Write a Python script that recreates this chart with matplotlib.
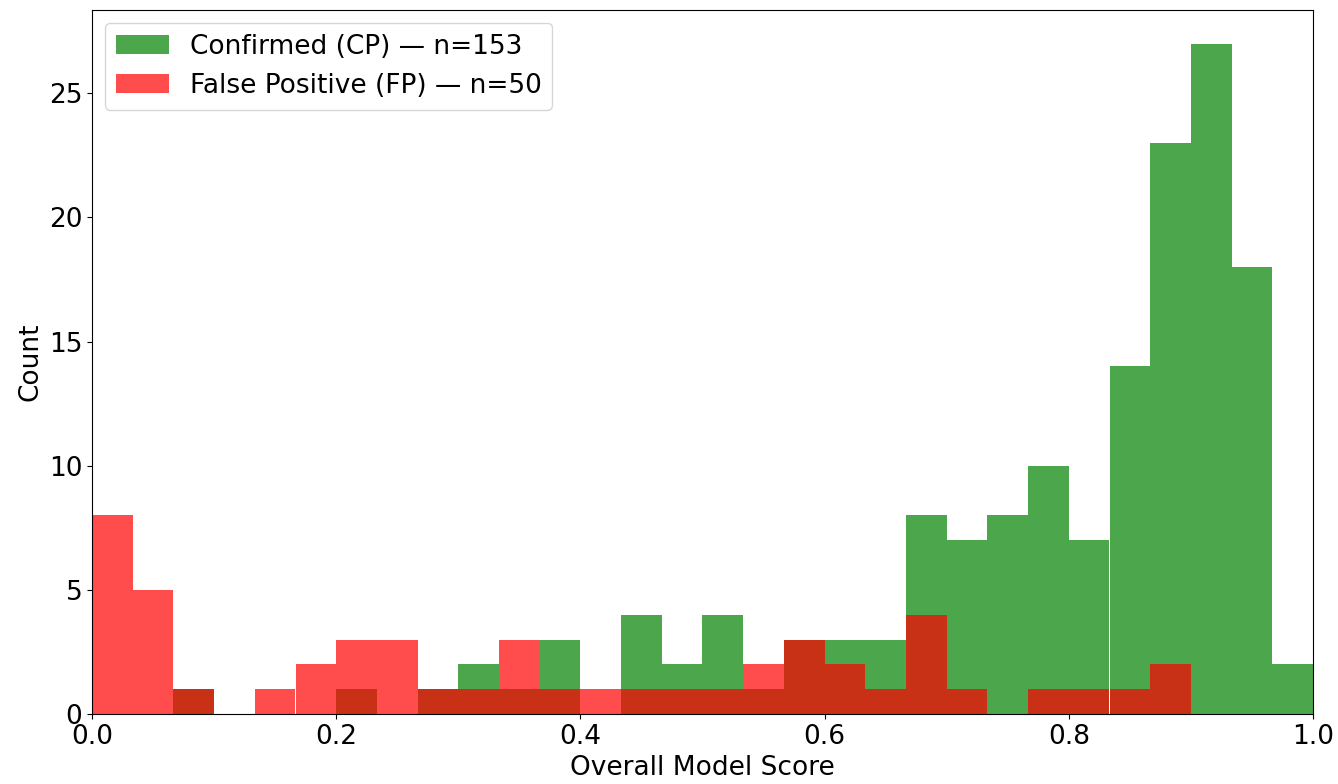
import matplotlib
matplotlib.use('Agg')
import matplotlib.pyplot as plt
import numpy as np

# 30 bins de igual ancho entre 0 y 1
bin_edges = np.linspace(0, 1, 31)

# Conteos, bin por bin
cp_counts = [0, 0, 1, 0, 0, 0, 1, 0, 1, 2,
             1, 3, 0, 4, 2, 4, 1, 3, 3, 3,
             8, 7, 8, 10, 7, 14, 23, 27, 18, 2]
fp_counts = [8, 5, 1, 0, 1, 2, 3, 3, 1, 1,
             3, 1, 1, 1, 1, 1, 2, 3, 2, 1,
             4, 1, 0, 1, 1, 1, 2, 0, 0, 0]

cp_label = 'Confirmed (CP) — n=153'
fp_label = 'False Positive (FP) — n=50'

centers = (bin_edges[:-1] + bin_edges[1:]) / 2

fig = plt.figure(figsize=(13.38, 7.84), dpi=100)
ax = fig.add_axes([92 / 1338, 70 / 784, 1221 / 1338, 704 / 784])

ax.hist(centers, bins=bin_edges, weights=cp_counts, color='green', alpha=0.7, label=cp_label)
ax.hist(centers, bins=bin_edges, weights=fp_counts, color='red', alpha=0.7, label=fp_label)

ax.set_xlim(0, 1)
ax.set_xlabel('Overall Model Score', fontsize=19)
ax.set_ylabel('Count', fontsize=19)
ax.tick_params(labelsize=19)
ax.legend(loc='upper left', fontsize=19)

fig.savefig('out.png', dpi=100)
